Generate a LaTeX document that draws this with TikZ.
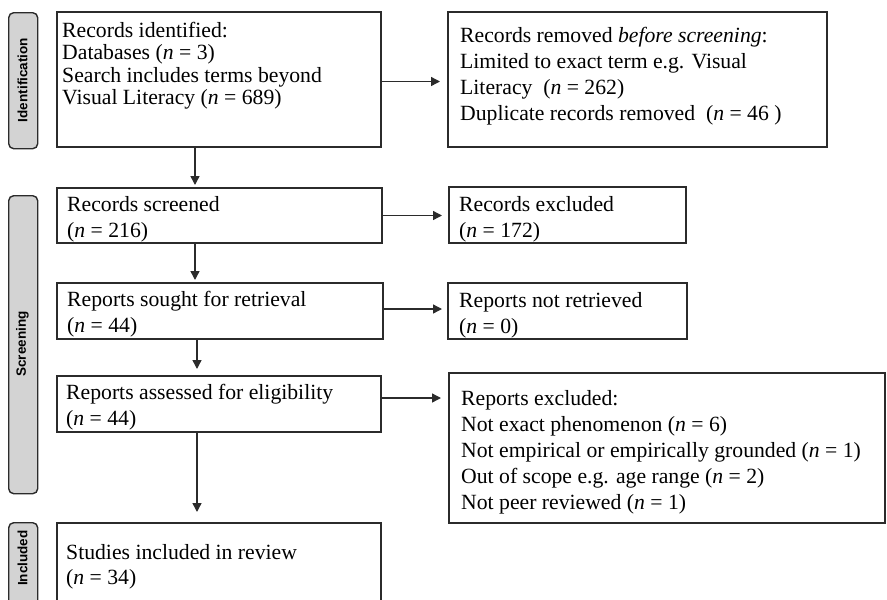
\documentclass[tikz,border=0pt]{standalone}
\usepackage{fontspec}
\setmainfont{Liberation Serif}
\newfontfamily\sidefont{Liberation Sans}
\usetikzlibrary{arrows.meta}
\definecolor{edge}{HTML}{2B2B2B}
\definecolor{barfill}{HTML}{D3D3D3}
\begin{document}
\begin{tikzpicture}[x=1pt,y=-1pt,
  box/.style={draw=edge,line width=1.6pt,inner sep=0pt,outer sep=0pt,anchor=north west},
  txt/.style={anchor=base west,inner sep=0pt,align=left,font=\fontsize{21.7}{26}\selectfont},
  bar/.style={draw=edge,fill=barfill,line width=1.4pt,rounded corners=5pt,inner sep=0pt,anchor=north west,minimum width=29pt},
  side/.style={rotate=90,font=\sidefont\bfseries\fontsize{13.5}{14}\selectfont,inner sep=0pt},
  arr/.style={draw=edge,line width=1.4pt,-{Triangle[length=9pt,width=9pt]}}]
\useasboundingbox (0,0) rectangle (887,600);
\clip (0,0) rectangle (887,600);
% side bars
\node[bar,minimum height=136pt] (sid) at (8,12) {};
\node[bar,minimum height=298pt] (sscr) at (8,195) {};
\node[bar,minimum height=120pt] (sinc) at (8,522) {};
\node[side] (lid) at (22.5,80) {Identification};
\node[side] (lscr) at (22.5,344) {Screening};
\node[side] (linc) at (22.5,558) {Included};
% boxes
\node[box,minimum width=324pt,minimum height=135pt] (b1) at (57,12) {};
\node[box,minimum width=379pt,minimum height=135pt] (b2) at (448,12) {};
\node[box,minimum width=325pt,minimum height=55pt] (b3) at (57,188) {};
\node[box,minimum width=237pt,minimum height=56pt] (b4) at (449,187) {};
\node[box,minimum width=326pt,minimum height=56pt] (b5) at (57,283) {};
\node[box,minimum width=239pt,minimum height=56pt] (b6) at (448,283) {};
\node[box,minimum width=324pt,minimum height=56pt] (b7) at (57,376) {};
\node[box,minimum width=436pt,minimum height=150pt] (b8) at (449,373) {};
\node[box,minimum width=324pt,minimum height=120pt] (b9) at (57,523) {};
% texts (anchor = baseline of the last line)
\node[txt,font=\fontsize{21.7}{22.5}\selectfont] (t1) at (62,104.5) {Records identified:\\Databases (\textit{n} = 3)\\Search includes terms beyond\\Visual Literacy (\textit{n} = 689)};
\node[txt] (t2) at (460,120) {Records removed \textit{before screening}:\\Limited to exact term e.g. Visual\\Literacy~~(\textit{n} = 262)\\Duplicate records removed~~(\textit{n} = 46~)};
\node[txt] (t3) at (67,237) {Records screened\\(\textit{n} = 216)};
\node[txt] (t4) at (459,237) {Records excluded\\(\textit{n} = 172)};
\node[txt] (t5) at (67,332) {Reports sought for retrieval\\(\textit{n} = 44)};
\node[txt] (t6) at (459,333) {Reports not retrieved\\(\textit{n} = 0)};
\node[txt] (t7) at (66,425) {Reports assessed for eligibility\\(\textit{n} = 44)};
\node[txt,font=\fontsize{21.7}{25.9}\selectfont] (t8) at (461,509) {Reports excluded:\\Not exact phenomenon (\textit{n} = 6)\\Not empirical or empirically grounded (\textit{n} = 1)\\Out of scope e.g. age range (\textit{n} = 2)\\Not peer reviewed (\textit{n} = 1)};
\node[txt,font=\fontsize{21.7}{25}\selectfont] (t9) at (66,584) {Studies included in review\\(\textit{n} = 34)};
% connectors
\coordinate (sp) at (195,0);
\coordinate (sq) at (197,0);
\draw[arr,shorten >=3pt] (b1.south -| sp) -- (b3.north -| sp);
\draw[arr,shorten >=3pt] (b3.south -| sp) -- (b5.north -| sp);
\draw[arr,shorten >=7pt] (b5.south -| sq) -- (b7.north -| sq);
\draw[arr,shorten >=11pt] (b7.south -| sq) -- (b9.north -| sq);
\draw[arr,shorten >=8pt] ([yshift=-2pt]b1.east) -- ([yshift=-2pt]b1.east -| b2.west);
\draw[arr,shorten >=7pt] (b3.east) -- (b3.east -| b4.west);
\draw[arr,shorten >=6pt] ([yshift=2pt]b5.east) -- ([yshift=2pt]b5.east -| b6.west);
\draw[arr,shorten >=8pt] ([yshift=6pt]b7.east) -- ([yshift=6pt]b7.east -| b8.west);
\end{tikzpicture}
\end{document}
